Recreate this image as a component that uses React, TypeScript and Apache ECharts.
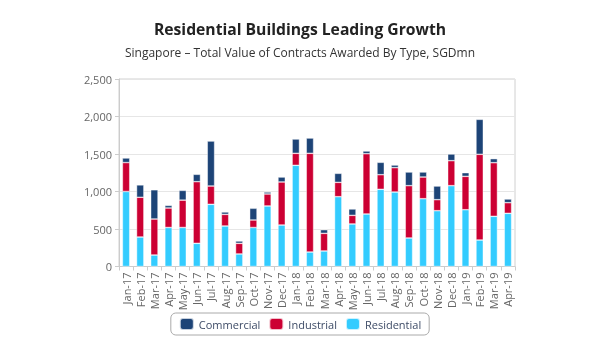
import React, { useEffect, useRef } from "react";
import * as echarts from "echarts";

const categories = [
  "Jan-17", "Feb-17", "Mar-17", "Apr-17", "May-17", "Jun-17", "Jul-17", "Aug-17", "Sep-17", "Oct-17", "Nov-17", "Dec-17",
  "Jan-18", "Feb-18", "Mar-18", "Apr-18", "May-18", "Jun-18", "Jul-18", "Aug-18", "Sep-18", "Oct-18", "Nov-18", "Dec-18",
  "Jan-19", "Feb-19", "Mar-19", "Apr-19",
];

const residential = [
  1000, 393, 153, 520, 520, 309, 829, 540, 167, 520, 807, 553,
  1349, 193, 207, 931, 567, 700, 1029, 993, 380, 904, 744, 1078,
  757, 353, 669, 709,
];
const industrial = [
  386, 530, 480, 260, 365, 822, 244, 155, 142, 100, 160, 574,
  160, 1316, 235, 191, 115, 804, 195, 325, 698, 289, 147, 333,
  445, 1143, 715, 142,
];
const commercial = [
  60, 165, 390, 35, 130, 98, 600, 32, 31, 156, 26, 66,
  191, 204, 49, 120, 85, 36, 165, 35, 182, 67, 182, 89,
  49, 466, 54, 49,
];

const yTicks = [0, 500, 1000, 1500, 2000, 2500];

const FONT = "'Open Sans', 'Noto Sans', sans-serif";

export default function App() {
  const ref = useRef<HTMLDivElement>(null);
  useEffect(() => {
    if (!ref.current) return;
    const chart = echarts.init(ref.current, undefined, { renderer: "svg" });
    const border = { borderColor: "rgba(255,255,255,0.75)", borderWidth: 0.6 };
    chart.setOption({
      animation: false,
      textStyle: { fontFamily: FONT },
      title: {
        text: "Residential Buildings Leading Growth",
        subtext: "Singapore – Total Value of Contracts Awarded By Type, SGDmn",
        left: "center",
        top: 16,
        itemGap: 9,
        textStyle: { fontFamily: FONT, fontSize: 15.7, fontWeight: "bold", color: "#222" },
        subtextStyle: { fontFamily: FONT, fontSize: 12, color: "#333" },
      },
      legend: {
        data: ["Commercial", "Industrial", "Residential"],
        left: "center",
        top: 313,
        icon: "roundRect",
        itemWidth: 14,
        itemHeight: 12,
        itemGap: 8,
        padding: [4, 8, 4, 8],
        borderColor: "#aaa",
        borderWidth: 1,
        borderRadius: 5,
        textStyle: { fontFamily: FONT, fontSize: 11, color: "#3d4b66" },
      },
      grid: {
        left: 119,
        right: 85,
        top: 79,
        bottom: 93.5,
        show: true,
        borderColor: "#d0d0d0",
        borderWidth: 1,
      },
      xAxis: {
        type: "category",
        data: categories,
        axisLine: { lineStyle: { color: "#ccc" } },
        axisTick: { show: true, alignWithLabel: false, length: 4, lineStyle: { color: "#ccc" } },
        axisLabel: { rotate: 90, interval: 0, fontSize: 11, color: "#666", margin: 6, fontFamily: FONT },
      },
      yAxis: {
        type: "value",
        min: yTicks[0],
        max: yTicks[yTicks.length - 1],
        interval: 500,
        axisLine: { show: true, lineStyle: { color: "#ccc" } },
        axisTick: { show: true, length: 4, lineStyle: { color: "#ccc" } },
        splitLine: { show: true, lineStyle: { color: "#e6e6e6" } },
        axisLabel: {
          fontSize: 11,
          color: "#666",
          margin: 7,
          fontFamily: FONT,
          formatter: (v: number) => v.toLocaleString("en-US"),
        },
      },
      series: [
        {
          name: "Residential",
          type: "bar",
          stack: "total",
          data: residential,
          barWidth: "52%",
          itemStyle: { color: "#33ccff", ...border },
        },
        {
          name: "Industrial",
          type: "bar",
          stack: "total",
          data: industrial,
          itemStyle: { color: "#cc0033", ...border },
        },
        {
          name: "Commercial",
          type: "bar",
          stack: "total",
          data: commercial,
          itemStyle: { color: "#1d4477", ...border },
        },
      ],
    });
    return () => chart.dispose();
  }, []);
  return <div ref={ref} style={{ position: "fixed", left: 0, top: 0, width: 600, height: 360 }} />;
}
